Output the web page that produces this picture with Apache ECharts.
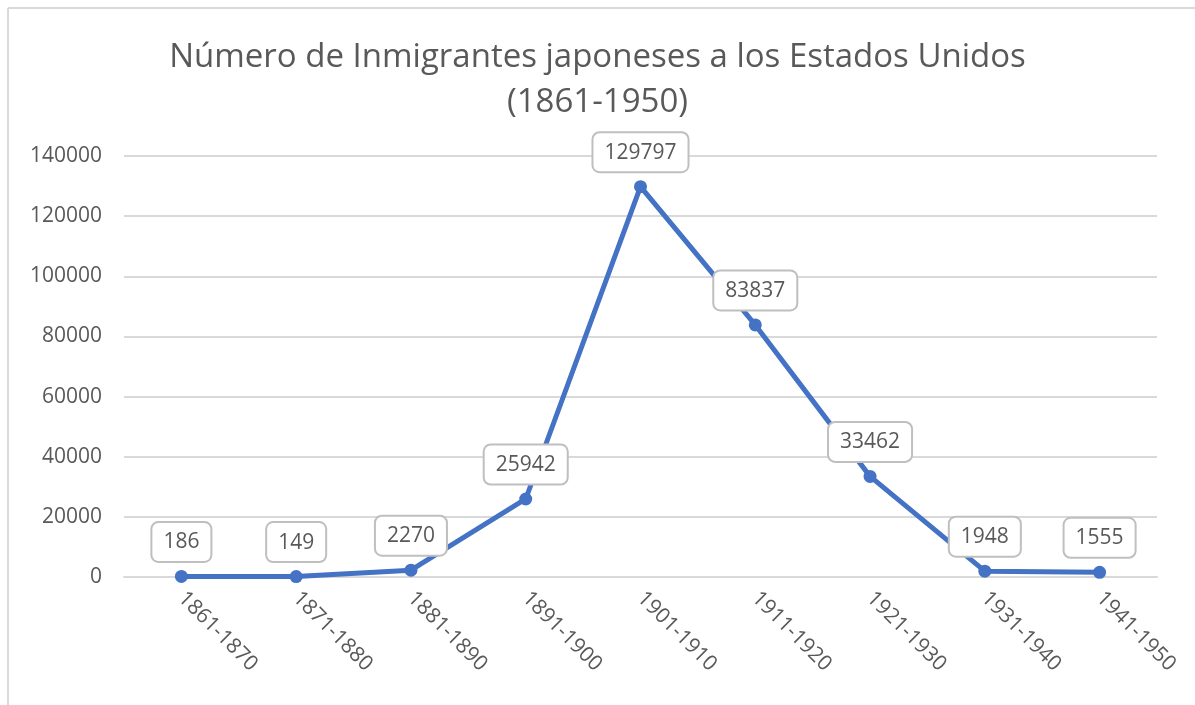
<!DOCTYPE html>
<html>
<head>
<meta charset="utf-8">
<script src="https://cdn.jsdelivr.net/npm/echarts@6/dist/echarts.min.js"></script>
<style>
  html, body { margin: 0; padding: 0; background: #fff; }
  #chart { width: 1195px; height: 705px; }
</style>
</head>
<body>
<div id="chart"></div>
<script>
// 数据
var periods = ['1861-1870', '1871-1880', '1881-1890', '1891-1900', '1901-1910',
               '1911-1920', '1921-1930', '1931-1940', '1941-1950'];
var immigrants = [186, 149, 2270, 25942, 129797, 83837, 33462, 1948, 1555];
var yTicks = { min: 0, max: 140000, step: 20000 };

(function () {
    var textColor = '#595959';
    var font = 'Open Sans';

    var option = {
        backgroundColor: '#fff',
        title: {
            text: 'Número de Inmigrantes japoneses a los Estados Unidos\n(1861-1950)',
            left: 'center',
            top: 30,
            textStyle: {
                fontFamily: font,
                fontSize: 33,
                fontWeight: 'normal',
                color: textColor,
                lineHeight: 45
            }
        },
        grid: {
            left: 124,
            right: 38,
            top: 156,
            bottom: 128
        },
        xAxis: {
            type: 'category',
            data: periods,
            boundaryGap: true,
            axisTick: { show: false },
            axisLine: { show: true, lineStyle: { color: '#d9d9d9', width: 2 } },
            axisLabel: {
                rotate: -45,
                margin: 18,
                interval: 0,
                color: textColor,
                fontFamily: font,
                fontSize: 21
            }
        },
        yAxis: {
            type: 'value',
            min: yTicks.min,
            max: yTicks.max,
            interval: yTicks.step,
            axisLine: { show: false },
            axisTick: { show: false },
            axisLabel: {
                margin: 22,
                color: textColor,
                fontFamily: font,
                fontSize: 21,
                formatter: function (v) { return String(v); }
            },
            splitLine: { lineStyle: { color: '#d9d9d9', width: 2 } }
        },
        series: [{
            type: 'line',
            data: immigrants,
            symbol: 'circle',
            symbolSize: 13,
            lineStyle: { color: '#4472C4', width: 5 },
            itemStyle: { color: '#4472C4' },
            label: {
                show: true,
                position: 'top',
                distance: 9,
                color: textColor,
                fontFamily: font,
                fontSize: 21,
                backgroundColor: '#fff',
                borderColor: '#bfbfbf',
                borderWidth: 2,
                borderRadius: 6,
                padding: [9, 11, 8, 11]
            }
        }],
        graphic: [
            { type: 'line', shape: { x1: 8, y1: 8, x2: 1195, y2: 8 }, style: { stroke: '#d9d9d9', lineWidth: 2 } },
            { type: 'line', shape: { x1: 8, y1: 8, x2: 8, y2: 705 }, style: { stroke: '#d9d9d9', lineWidth: 2 } }
        ]
    };

    var myechart = echarts.init(document.getElementById('chart'));
    myechart.setOption(option);
})();
</script>
</body>
</html>
